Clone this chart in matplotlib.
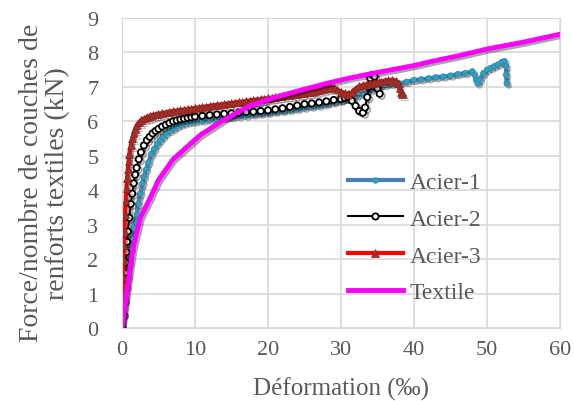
import matplotlib
matplotlib.use("Agg")
import matplotlib.pyplot as plt
import matplotlib.patheffects as pe

plt.rcParams['font.family'] = ['Liberation Serif', 'DejaVu Serif']

# Acier-1
a1_x = [0, 0.2, 0.4, 0.6, 0.8, 1, 1.2, 1.4, 1.6, 1.8, 2, 2.2, 2.5, 2.8, 3, 3.3, 3.6, 4, 4.4, 4.8, 5.2, 5.6, 6,
        6.5, 7, 7.5, 8, 8.5, 9, 9.5, 10, 11, 12, 13, 14, 15, 16, 17, 18, 19, 20, 21, 22, 23, 24, 25,
        26, 27, 28, 29, 30, 31, 32, 33, 34, 35, 36, 37, 38, 39, 40, 41, 42, 43, 44, 45, 46, 47, 48,
        48.3, 48.5, 48.7, 49, 49.5, 50, 50.5, 51, 51.5, 52, 52.4, 52.6, 52.6, 52.7]
a1_y = [0, 0.4, 0.8, 1.2, 1.5, 1.9, 2.3, 2.6, 2.9, 3.1, 3.3, 3.6, 3.9, 4.2, 4.4, 4.6, 4.8, 5.05, 5.2, 5.35, 5.45, 5.55, 5.65,
        5.72, 5.78, 5.85, 5.9, 5.94, 5.97, 5.99, 6.0, 6.02, 6.05, 6.07, 6.1, 6.12, 6.15, 6.17, 6.2, 6.22, 6.25, 6.28, 6.3, 6.33, 6.36, 6.4,
        6.43, 6.46, 6.5, 6.55, 6.6, 6.65, 6.72, 6.8, 6.9, 7.0, 7.05, 7.08, 7.1, 7.15, 7.2, 7.22, 7.25, 7.28, 7.3, 7.33, 7.37, 7.4, 7.45,
        7.35, 7.2, 7.1, 7.2, 7.4, 7.5, 7.55, 7.6, 7.65, 7.72, 7.75, 7.6, 7.35, 7.1]

# Acier-2
a2_x = [0, 0.1, 0.2, 0.3, 0.4, 0.5, 0.6, 0.7, 0.8, 1, 1.2, 1.4, 1.6, 1.8, 2, 2.3, 2.6, 3, 3.4, 3.8, 4.2, 4.6, 5,
        5.5, 6, 6.5, 7, 7.5, 8, 8.5, 9, 9.5, 10, 11, 12, 13, 14, 15, 16, 17, 18, 19, 20, 21, 22, 23, 24,
        25, 26, 27, 28, 29, 30, 30.5, 31, 31.5, 32, 32.5, 33, 33.3, 33.6, 33.8, 34, 34.3, 34.6, 35, 35.3]
a2_y = [0, 0.4, 0.8, 1.2, 1.6, 1.9, 2.2, 2.5, 2.8, 3.2, 3.6, 3.9, 4.2, 4.45, 4.65, 4.9, 5.1, 5.3, 5.45, 5.55, 5.65, 5.72, 5.78,
        5.85, 5.9, 5.95, 6.0, 6.03, 6.06, 6.08, 6.1, 6.12, 6.14, 6.16, 6.18, 6.2, 6.22, 6.23, 6.25, 6.27, 6.28, 6.3, 6.32, 6.35, 6.38, 6.42, 6.46,
        6.5, 6.52, 6.55, 6.58, 6.62, 6.65, 6.68, 6.7, 6.6, 6.45, 6.3, 6.25, 6.4, 6.7, 7.0, 7.25, 7.35, 7.3, 6.95, 6.8]

# Acier-3
a3_x = [0, 0.05, 0.1, 0.15, 0.2, 0.25, 0.3, 0.4, 0.5, 0.6, 0.7, 0.8, 0.9, 1, 1.2, 1.4, 1.6, 1.8, 2, 2.3, 2.6, 3,
        3.4, 3.8, 4.2, 4.6, 5, 5.5, 6, 6.5, 7, 7.5, 8, 8.5, 9, 9.5, 10, 10.5, 11, 11.5, 12, 12.5, 13, 13.5, 14, 14.5,
        15, 15.5, 16, 16.5, 17, 17.5, 18, 18.5, 19, 19.5, 20, 20.5, 21, 21.5, 22, 22.5, 23, 23.5, 24, 24.5, 25, 25.5,
        26, 26.5, 27, 27.5, 28, 28.5, 29, 29.5, 30, 30.5, 31, 31.5, 32, 32.5, 33, 33.5, 34, 34.5, 35, 35.5, 36, 36.5,
        37, 37.5, 37.8, 38, 38.2, 38.4]
a3_y = [0, 0.5, 1.0, 1.5, 2.0, 2.4, 2.8, 3.3, 3.7, 4.05, 4.35, 4.6, 4.85, 5.05, 5.3, 5.5, 5.65, 5.78, 5.88, 5.97, 6.03, 6.08,
        6.12, 6.15, 6.18, 6.2, 6.22, 6.24, 6.26, 6.28, 6.3, 6.31, 6.33, 6.34, 6.36, 6.37, 6.39, 6.4, 6.42, 6.43, 6.45, 6.46, 6.48, 6.49, 6.5, 6.52,
        6.53, 6.55, 6.56, 6.57, 6.59, 6.6, 6.62, 6.63, 6.64, 6.66, 6.67, 6.69, 6.7, 6.72, 6.73, 6.75, 6.76, 6.78, 6.79, 6.81, 6.82, 6.84,
        6.86, 6.88, 6.9, 6.93, 6.96, 7.0, 6.97, 6.92, 6.86, 6.82, 6.8, 6.85, 6.95, 7.02, 7.05, 7.08, 7.1, 7.12, 7.14, 7.16, 7.18, 7.2,
        7.2, 7.18, 7.1, 6.95, 6.85, 6.8]

# Textile
tx_x = [0, 0.5, 1, 1.5, 2.5, 3.8, 5, 7, 10.7, 14, 17.5, 21, 24.4, 28, 31, 34, 37, 40, 42.6, 46, 50, 55, 60]
tx_y = [0, 0.8, 1.6, 2.3, 3.2, 3.75, 4.3, 4.9, 5.6, 6.05, 6.45, 6.7, 6.9, 7.1, 7.25, 7.38, 7.5, 7.62, 7.75, 7.9, 8.1, 8.3, 8.53]

xticks = [0, 10, 20, 30, 40, 50, 60]
yticks = [0, 1, 2, 3, 4, 5, 6, 7, 8, 9]

shadow = [pe.SimpleLineShadow(offset=(1.5, -1.5), alpha=0.35), pe.Normal()]

fig = plt.figure(figsize=(5.74, 4.02), dpi=100)
ax = fig.add_axes([0.2125, 0.1816, 0.7631, 0.7711])

ax.plot(a1_x, a1_y, color='#4a7ebb', lw=3, marker='o', ms=4, mfc='#31a0c0', mec='#2a8aa8',
        mew=0.5, label='Acier-1', path_effects=shadow)
ax.plot(a2_x, a2_y, color='black', lw=1.5, marker='o', ms=4.5, mfc='white', mec='black',
        mew=1.3, label='Acier-2', path_effects=shadow)
ax.plot(a3_x, a3_y, color='red', lw=3, marker='^', ms=5.5, mfc='#a0302a', mec='#8b2520',
        mew=0.5, label='Acier-3', path_effects=shadow)
ax.plot(tx_x, tx_y, color='#ff00ff', lw=3.5, label='Textile', path_effects=shadow)

ax.set_xlim(0, 60)
ax.set_ylim(0, 9)
ax.set_xticks(xticks)
ax.set_yticks(yticks)
ax.grid(True, color='#d9d9d9', lw=1.2)
ax.set_axisbelow(True)
for s in ax.spines.values():
    s.set_color('#d9d9d9')
ax.tick_params(length=0, labelsize=16, labelcolor='#595959')
ax.tick_params(axis='x', pad=9)
ax.tick_params(axis='y', pad=17)

ax.set_xlabel('Déformation (‰)', fontsize=18, color='#595959', labelpad=12)
ax.set_ylabel('Force/nombre de couches de\nrenforts textiles (kN)', fontsize=20, color='#595959',
              labelpad=12, linespacing=1.1)
ax.yaxis.label.set_y(0.47)

leg = ax.legend(loc='upper left', bbox_to_anchor=(0.495, 0.536), borderaxespad=0, frameon=False,
                fontsize=17, handlelength=2.3, labelspacing=0.65, handletextpad=0.3)
for t in leg.get_texts():
    t.set_color('#595959')
for h in leg.get_lines():
    h.set_path_effects([])

fig.savefig('out.png', dpi=100)
